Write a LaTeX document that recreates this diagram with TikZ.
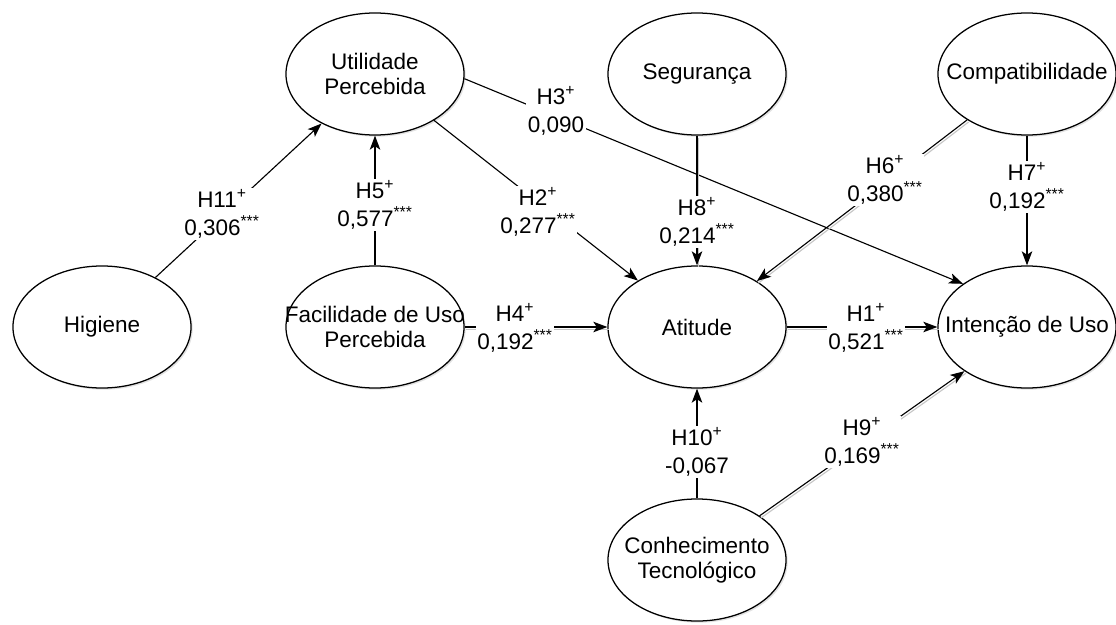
\documentclass[tikz,border=0pt]{standalone}
\usepackage{fontspec}
\setmainfont{Liberation Sans}
\usetikzlibrary{arrows.meta,shapes.geometric,shadows}

\tikzset{
  construct/.style={ellipse, draw, line width=0.9pt, fill=white,
    minimum width=4.45cm, minimum height=3.05cm, inner sep=0pt,
    drop shadow={shadow xshift=1.2pt, shadow yshift=-1.2pt, fill=gray!45}},
  ctext/.style={align=center, font=\fontsize{16}{17.5}\selectfont},
  link/.style={line width=0.8pt, -{Stealth[length=10pt,width=7.5pt,inset=2.5pt]}},
  shadowlink/.style={link, preaction={draw=gray!45, line width=0.8pt, -,
    transform canvas={shift={(1pt,-1.5pt)}}}},
  coef/.style={fill=white, inner sep=1pt, align=center,
    font=\fontsize{16}{19.5}\selectfont},
}

\begin{document}
\begin{tikzpicture}[x=0.025cm, y=-0.025cm]
  \useasboundingbox (0,0) rectangle (1116,624);

  % constructos
  \node[construct, label={[ctext]center:{Utilidade\\Percebida}}] (util) at (375,74) {};
  \node[construct, label={[ctext]center:Segurança}] (seg) at (697,74) {};
  \node[construct, label={[ctext]center:Compatibilidade}] (compat) at (1027,74) {};
  \node[construct, label={[ctext]center:Higiene}] (hig) at (102,327) {};
  \node[construct, label={[ctext]center:{Facilidade de Uso\\Percebida}}] (facil) at (375,327) {};
  \node[construct, label={[ctext]center:Atitude}] (atit) at (697,327) {};
  \node[construct, label={[ctext]center:Intenção de Uso}] (inten) at (1027,327) {};
  \node[construct, label={[ctext]center:{Conhecimento\\Tecnológico}}] (conhec) at (697,560) {};

  % hipoteses
  \draw[link] (hig) -- (util);
  \draw[link] (facil) -- (util);
  \draw[link] (util) -- (atit);
  \draw[link] (util.-3) -- (inten.146);
  \draw[shadowlink] (seg) -- (atit);
  \draw[shadowlink] (compat) -- (atit);
  \draw[link] (compat) -- (inten);
  \draw[shadowlink] (facil) -- (atit);
  \draw[shadowlink] (atit) -- (inten);
  \draw[link] (conhec) -- (atit);
  \draw[shadowlink] (conhec) -- (inten);

  % coeficientes
  \node[coef] (h11) at (222,214) {H11\textsuperscript{+}\\0,306\textsuperscript{***}};
  \node[coef] (h5) at (375,205) {H5\textsuperscript{+}\\0,577\textsuperscript{***}};
  \node[coef] (h2) at (538,212) {H2\textsuperscript{+}\\0,277\textsuperscript{***}};
  \node[coef] (h3) at (556,111) {H3\textsuperscript{+}\\0,090};
  \node[coef] (h8) at (697,222) {H8\textsuperscript{+}\\0,214\textsuperscript{***}};
  \node[coef] (h6) at (885,180) {H6\textsuperscript{+}\\0,380\textsuperscript{***}};
  \node[coef] (h7) at (1027,187) {H7\textsuperscript{+}\\0,192\textsuperscript{***}};
  \node[coef] (h4) at (515,328) {H4\textsuperscript{+}\\0,192\textsuperscript{***}};
  \node[coef] (h1) at (866,328) {H1\textsuperscript{+}\\0,521\textsuperscript{***}};
  \node[coef] (h10) at (697,452) {H10\textsuperscript{+}\\-0,067};
  \node[coef] (h9) at (862,442) {H9\textsuperscript{+}\\0,169\textsuperscript{***}};
\end{tikzpicture}
\end{document}
